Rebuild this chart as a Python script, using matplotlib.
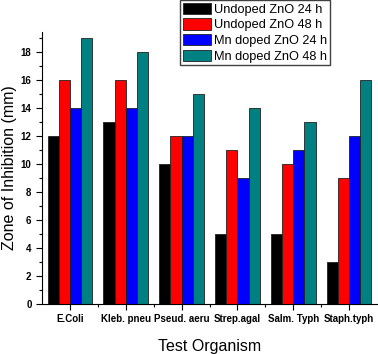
import matplotlib
matplotlib.use("Agg")
import matplotlib.pyplot as plt
import numpy as np
from matplotlib.ticker import MultipleLocator, FixedLocator

organisms = ["E.Coli", "Kleb. pneu", "Pseud. aeru", "Strep.agal", "Salm. Typh", "Staph.typh"]
undoped_24 = [12, 13, 10, 5, 5, 3]
undoped_48 = [16, 16, 12, 11, 10, 9]
mn_24 = [14, 14, 12, 9, 11, 12]
mn_48 = [19, 18, 15, 14, 13, 16]

series = [
    ("Undoped ZnO 24 h", undoped_24, "#000000"),
    ("Undoped ZnO 48 h", undoped_48, "#ff0000"),
    ("Mn doped ZnO 24 h", mn_24, "#0000ff"),
    ("Mn doped ZnO 48 h", mn_48, "#008080"),
]

plt.rcParams["font.family"] = ["Liberation Sans", "DejaVu Sans"]

fig = plt.figure(figsize=(3.78, 3.54), dpi=100)
ax = fig.add_axes([42 / 378, 1 - 304 / 354, 335 / 378, 272 / 354])

x = np.arange(len(organisms))
width = 0.2
handles = []
for i, (label, vals, color) in enumerate(series):
    b = ax.bar(x - 0.3 + i * width, vals, width, color=color, edgecolor="#202020",
               linewidth=0.6, label=label)
    handles.append(b)

ax.set_xlim(-0.5, 5.5)
ax.set_ylim(0, 19.43)
ax.spines["top"].set_visible(False)
ax.spines["right"].set_visible(False)

ax.set_xticks(x)
ax.set_xticklabels(organisms, fontsize=7, fontweight="bold")
ax.xaxis.set_minor_locator(FixedLocator(x[:-1] + 0.5))
ax.yaxis.set_major_locator(MultipleLocator(2))
ax.yaxis.set_minor_locator(MultipleLocator(1))
ax.tick_params(axis="y", labelsize=7)
for t in ax.get_yticklabels():
    t.set_fontweight("bold")
ax.tick_params(which="major", direction="out", length=4, width=0.8)
ax.tick_params(which="minor", direction="out", length=2.2, width=0.8)
ax.tick_params(axis="x", pad=3)

ax.set_ylabel("Zone of Inhibition (mm)", fontsize=11.5, labelpad=3)
ax.set_xlabel("Test Organism", fontsize=11.5, labelpad=11)

fig.legend(handles=handles, loc="upper right", bbox_to_anchor=(330 / 378, 1.0),
           fontsize=9.2, frameon=True, fancybox=False, edgecolor="#404040",
           handlelength=2.2, handleheight=1.0, labelspacing=0.2,
           borderpad=0.2, handletextpad=0.25, borderaxespad=0.0, framealpha=1)

fig.savefig("out.png", dpi=100)
